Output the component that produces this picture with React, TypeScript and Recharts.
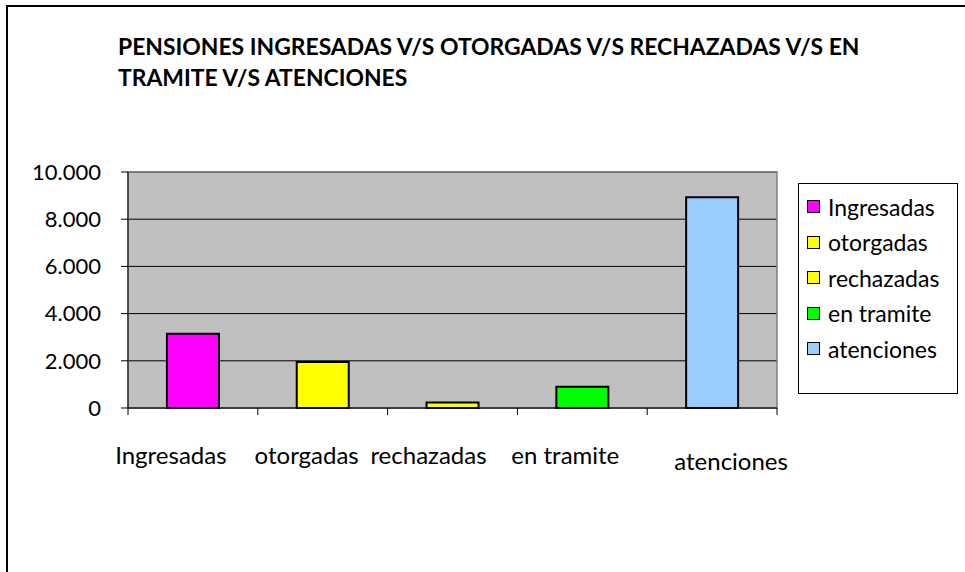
import { BarChart, Bar, Cell, XAxis, YAxis, CartesianGrid, ReferenceArea } from 'recharts';

const categories = ['Ingresadas', 'otorgadas', 'rechazadas', 'en tramite', 'atenciones'];
const values = [3150, 1950, 230, 900, 8930];
const colors = ['#FF00FF', '#FFFF00', '#FFFF00', '#00FF00', '#99CCFF'];
const yTicks = [0, 2000, 4000, 6000, 8000, 10000];
// Excel nudged the crowded category labels sideways
const labelShift = [-22, -16, -24, -17, 19];

const data = categories.map((name, i) => ({ name, value: values[i] }));

const FONT = 'Lato, "Open Sans", sans-serif';

const formatThousands = (v: number) => v.toString().replace(/\B(?=(\d{3})+(?!\d))/g, '.');

const CategoryTick = ({ x, y, payload, index }: any) => {
  const half = payload?.offset ?? 65;
  const isLast = index === categories.length - 1;
  return (
    <g>
      <line x1={x - half} y1={y - 8} x2={x - half} y2={y - 1} stroke="#000" />
      {isLast && <line x1={x + half} y1={y - 8} x2={x + half} y2={y - 1} stroke="#000" />}
      <text
        x={x + (labelShift[index] ?? 0)}
        y={y + (isLast ? 54 : 48)}
        textAnchor="middle"
        fontFamily={FONT}
        fontSize={24}
        fill="#000"
      >
        {payload.value}
      </text>
    </g>
  );
};

const LegendBox = () => (
  <div
    style={{
      position: 'absolute',
      left: 798,
      top: 183,
      width: 160,
      height: 211,
      border: '1px solid #000',
      background: '#fff',
      boxSizing: 'border-box',
      paddingTop: 5,
      fontFamily: FONT,
      fontSize: 23,
    }}
  >
    {categories.map((c, i) => (
      <div key={c} style={{ display: 'flex', alignItems: 'center', height: 35.5, paddingLeft: 8 }}>
        <span
          style={{
            width: 11,
            height: 11,
            background: colors[i],
            border: '1.5px solid #000',
            marginRight: 8,
            display: 'inline-block',
          }}
        />
        <span>{c}</span>
      </div>
    ))}
  </div>
);

export default function App() {
  return (
    <div style={{ position: 'absolute', left: 0, top: 0, width: 965, height: 572, overflow: 'hidden', background: '#fff' }}>
      <div
        style={{
          position: 'absolute',
          left: 6,
          top: 5,
          width: 1000,
          height: 600,
          border: '2px solid #000',
        }}
      />
      <div
        style={{
          position: 'absolute',
          left: 118,
          top: 31,
          fontFamily: FONT,
          fontWeight: 'bold',
          fontSize: 22.9,
          lineHeight: '31px',
          color: '#000',
          whiteSpace: 'nowrap',
        }}
      >
        PENSIONES INGRESADAS V/S OTORGADAS V/S RECHAZADAS V/S EN
        <br />
        TRAMITE V/S ATENCIONES
      </div>
      <div style={{ position: 'absolute', left: 0, top: 0 }}>
        <BarChart
          width={965}
          height={572}
          data={data}
          margin={{ top: 172, right: 188, left: 0, bottom: 104 }}
          barCategoryGap="30%"
        >
          <CartesianGrid vertical={false} stroke="#000" fill="#C0C0C0" fillOpacity={1} />
          <ReferenceArea y1={0} y2={10000} fill="none" stroke="#808080" strokeWidth={1.5} />
          <XAxis
            dataKey="name"
            height={60}
            axisLine={{ stroke: '#000' }}
            tickLine={false}
            tick={<CategoryTick />}
            interval={0}
          />
          <YAxis
            width={128}
            domain={[0, 10000]}
            ticks={yTicks}
            tickFormatter={formatThousands}
            axisLine={{ stroke: '#000' }}
            tickLine={{ stroke: '#000' }}
            tickSize={7}
            tickMargin={20}
            tick={{ fill: '#000', fontSize: 22, fontFamily: FONT }}
            interval={0}
          />
          <Bar dataKey="value" stroke="#000" strokeWidth={2} isAnimationActive={false}>
            {data.map((d, i) => (
              <Cell key={d.name} fill={colors[i]} />
            ))}
          </Bar>
        </BarChart>
      </div>
      <LegendBox />
    </div>
  );
}
